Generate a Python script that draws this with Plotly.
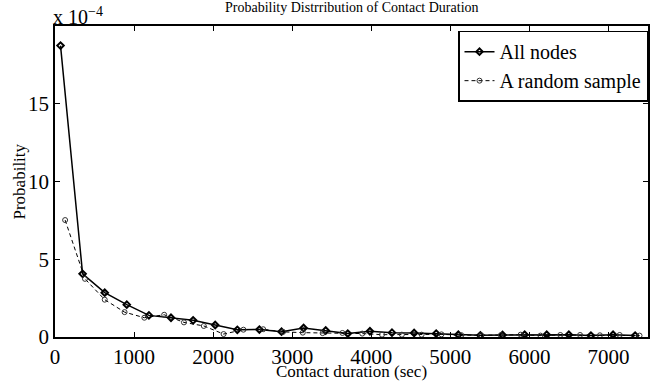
import plotly.graph_objects as go

# Contact-duration bins (seconds) and probabilities, in units of 1e-4
all_nodes_x = [70, 349, 629, 908, 1188, 1467, 1747, 2026, 2306, 2585, 2865, 3144, 3424,
               3703, 3983, 4262, 4542, 4821, 5101, 5380, 5660, 5940, 6219, 6499, 6778,
               7058, 7337]
all_nodes_y = [18.74, 4.06, 2.85, 2.08, 1.39, 1.24, 1.07, 0.77, 0.46, 0.48, 0.34, 0.58, 0.42,
               0.22, 0.37, 0.28, 0.26, 0.22, 0.15, 0.11, 0.13, 0.15, 0.15, 0.15, 0.09,
               0.15, 0.09]

sample_x = [128, 379, 629, 880, 1130, 1381, 1631, 1882, 2132, 2383, 2633, 2884, 3134, 3385,
            3635, 3886, 4136, 4387, 4637, 4888, 5138, 5389, 5639, 5890, 6140, 6391, 6641,
            6892, 7142, 7393]
sample_y = [7.52, 3.74, 2.40, 1.60, 1.24, 1.43, 0.94, 0.71, 0.19, 0.47, 0.50, 0.33, 0.28, 0.25,
            0.26, 0.22, 0.15, 0.15, 0.15, 0.17, 0.12, 0.11, 0.12, 0.15, 0.09, 0.13, 0.13,
            0.11, 0.13, 0.09]

x_ticks = [0, 1000, 2000, 3000, 4000, 5000, 6000, 7000]
y_ticks = [0, 5, 10, 15]

FONT = "Liberation Serif"

fig = go.Figure()
fig.add_trace(go.Scatter(
    x=all_nodes_x, y=all_nodes_y, mode="lines+markers", name="All nodes",
    line=dict(color="black", width=1.5),
    marker=dict(symbol="diamond-open", size=5, color="black", line=dict(width=2)),
))
fig.add_trace(go.Scatter(
    x=sample_x, y=sample_y, mode="lines+markers", name="A random sample",
    line=dict(color="black", width=1, dash="4px,3px"),
    marker=dict(symbol="circle-open", size=5, color="#333333", line=dict(width=1)),
))

axis_common = dict(
    showgrid=False, zeroline=False, showline=True, linecolor="black", linewidth=1.8,
    mirror="ticks", ticks="inside", ticklen=5, tickwidth=1, tickcolor="black",
    tickfont=dict(family=FONT, size=21, color="black"),
)

fig.update_layout(
    width=651, height=383,
    margin=dict(l=55, r=1, t=26, b=46),
    paper_bgcolor="white", plot_bgcolor="white",
    font=dict(family=FONT, color="black"),
    xaxis=dict(range=[0, 7500], tickvals=x_ticks, **axis_common),
    yaxis=dict(range=[0, 20], tickvals=y_ticks, **axis_common),
    showlegend=True,
    legend=dict(
        x=1, y=0.985, xanchor="right", yanchor="top",
        bgcolor="white", bordercolor="black", borderwidth=1.5,
        font=dict(family=FONT, size=20, color="black"),
        itemwidth=30, tracegroupgap=0,
    ),
    annotations=[
        dict(text="Probability Distrribution of Contact Duration", xref="paper", yref="paper",
             x=0.5, y=1, yshift=19, xanchor="center", yanchor="middle", showarrow=False,
             font=dict(family=FONT, size=14, color="black")),
        dict(text="x 10<sup>\u22124</sup>", xref="paper", yref="paper",
             x=0, y=1, xanchor="left", yanchor="bottom", showarrow=False, xshift=-4, yshift=-4,
             font=dict(family=FONT, size=20, color="black")),
        dict(text="Contact duration (sec)", xref="paper", yref="paper",
             x=0.5, y=0, yshift=-34, xanchor="center", yanchor="middle", showarrow=False,
             font=dict(family=FONT, size=17, color="black")),
        dict(text="Probability", xref="paper", yref="paper", textangle=-90,
             x=0, y=0.5, xshift=-36, xanchor="center", yanchor="middle", showarrow=False,
             font=dict(family=FONT, size=17, color="black")),
    ],
)

fig.write_html("out.html")
